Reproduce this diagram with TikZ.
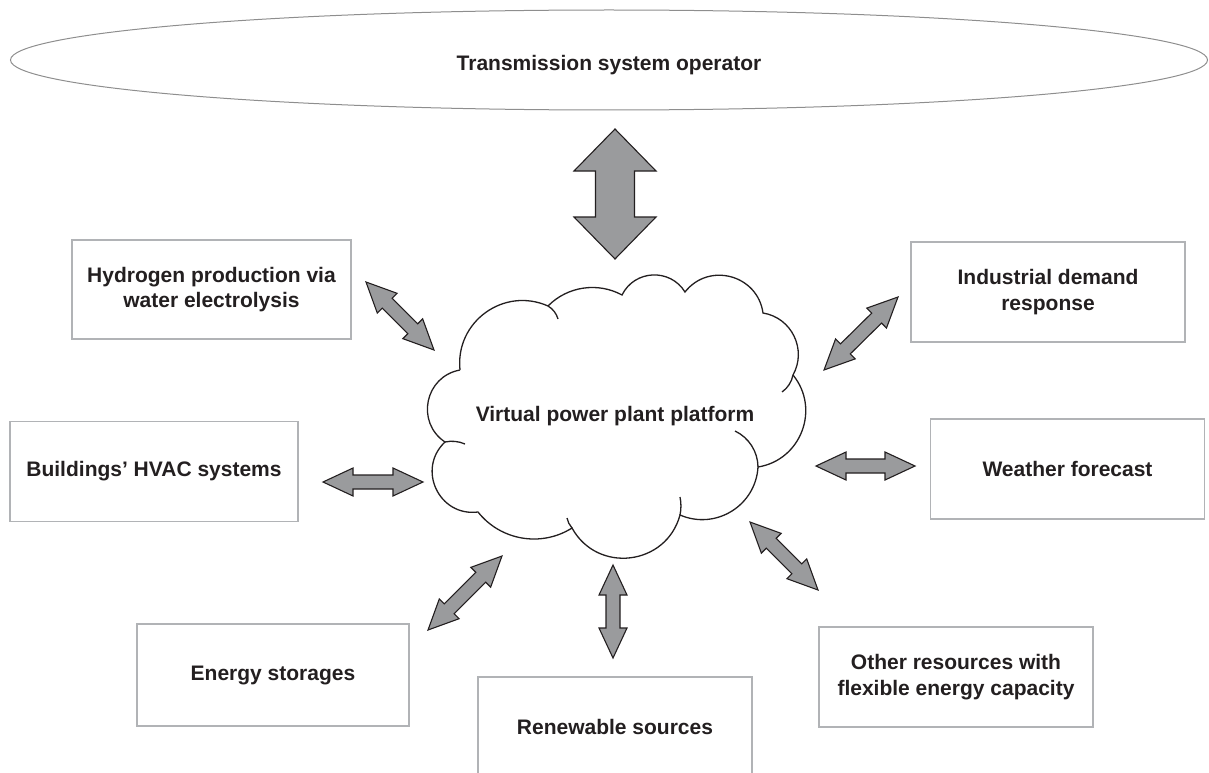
\documentclass[tikz,border=0pt]{standalone}
\usepackage{fontspec}
\setmainfont{Liberation Sans}
\usetikzlibrary{shapes.geometric,calc}

\definecolor{inkblack}{HTML}{231F20}
\definecolor{boxgray}{HTML}{B1B3B6}
\definecolor{rimgray}{HTML}{8E8E8E}
\definecolor{arrowgray}{HTML}{9A9B9D}

\tikzset{
  resource/.style={draw=boxgray, line width=1.6pt, fill=white, align=center,
    minimum width=274pt, minimum height=100pt, inner sep=0pt},
  twoway/.style={draw=inkblack, fill=arrowgray, line width=1.1pt, line join=miter},
  cloudline/.style={draw=inkblack, line width=1.3pt},
  % circular puff between two points, #1 = half of the arc angle
  puff/.code={\pgfmathsetmacro\pufflo{(4/3)*tan(#1/2)/(2*sin(#1))/0.3915}%
    \pgfkeysalso{bend left=#1, looseness/.expanded=\pufflo}},
}

% double headed block arrow: #1 from, #2 to, #3 head length, #4 head half width, #5 shaft half width
\newcommand{\twowayarrow}[5]{%
  \path let \p1=($(#2)-(#1)$) in \pgfextra{%
    \pgfmathparse{atan2(\y1,\x1)}\xdef\arrang{\pgfmathresult}%
    \pgfmathparse{veclen(\x1,\y1)}\xdef\arrlen{\pgfmathresult}};
  \draw[twoway, shift={(#1)}, rotate=\arrang]
    (0,0) -- (#3,#4) -- (#3,#5) -- ({\arrlen-#3},#5) -- ({\arrlen-#3},#4) -- (\arrlen,0)
    -- ({\arrlen-#3},-#4) -- ({\arrlen-#3},-#5) -- (#3,-#5) -- (#3,-#4) -- cycle;
}

\begin{document}
\begin{tikzpicture}[x=1pt, y=-1pt, text=inkblack, font=\fontsize{21}{25.5}\selectfont\bfseries]
\useasboundingbox (0,0) rectangle (1209,773);

% operator
\node[ellipse, draw=rimgray, line width=1pt, minimum width=1197pt, minimum height=100pt,
  text height=25pt, text depth=4.5pt] (tso) at (609,60) {Transmission system operator};

% platform cloud
\draw[cloudline] (460,370) to[puff=60] (548,306) to[puff=37] (622,295) to[puff=61] (685,292)
  to[puff=67] (763,313) to[puff=55] (793,375) to[puff=60] (758,467) to[puff=55] (680,515)
  to[puff=68] (572,528) to[puff=42] (478,512) to[puff=72] (445,442) to[puff=68] (460,370);
\draw[cloudline] (548,306) to[puff=22] (558,319);
\draw[cloudline] (793,375) to[puff=22] (782,392);
\draw[cloudline] (735,431) to[puff=32] (758,467);
\draw[cloudline] (680,497) to[puff=12] (680,515);
\draw[cloudline] (572,528) to[puff=15] (567,518);
\draw[cloudline] (445,442) to[puff=18] (465,444);
\node (vpp) at (615,416) {Virtual power plant platform};

% resources
\node[resource, minimum width=279pt, minimum height=99pt] (hydrogen) at (211.5,289.5) {Hydrogen production via\\water electrolysis};
\node[resource] (industry) at (1048,292) {Industrial demand\\response};
\node[resource, minimum width=288pt] (hvac) at (154,471.5) {Buildings’ HVAC systems};
\node[resource] (weather) at (1067.5,469) {Weather forecast};
\node[resource, minimum width=272pt, minimum height=102pt] (storage) at (273,675) {Energy storages};
\node[resource] (renew) at (615,727) {Renewable sources};
\node[resource] (other) at (956,677) {Other resources with\\flexible energy capacity};

% arrow ends
\coordinate (tso-end) at (615,129);     \coordinate (vpp-top) at (615,259);
\coordinate (hydrogen-end) at (366,282); \coordinate (vpp-nw) at (434,350);
\coordinate (industry-end) at (898,297); \coordinate (vpp-ne) at (824,370);
\coordinate (hvac-end) at (323,482);     \coordinate (vpp-w) at (423,482);
\coordinate (weather-end) at (915,466);  \coordinate (vpp-e) at (816,466);
\coordinate (storage-end) at (428,630);  \coordinate (vpp-sw) at (502,556);
\coordinate (renew-end) at (613,658);    \coordinate (vpp-s) at (613,565);
\coordinate (other-end) at (818,590);    \coordinate (vpp-se) at (750,522);

\twowayarrow{tso-end}{vpp-top}{42}{41}{19.5}
\twowayarrow{hydrogen-end}{vpp-nw}{30}{14}{7}
\twowayarrow{industry-end}{vpp-ne}{30}{14}{7}
\twowayarrow{hvac-end}{vpp-w}{30}{14}{7}
\twowayarrow{weather-end}{vpp-e}{30}{14}{7}
\twowayarrow{storage-end}{vpp-sw}{30}{14}{7}
\twowayarrow{renew-end}{vpp-s}{30}{14}{7}
\twowayarrow{other-end}{vpp-se}{30}{14}{7}
\end{tikzpicture}
\end{document}
